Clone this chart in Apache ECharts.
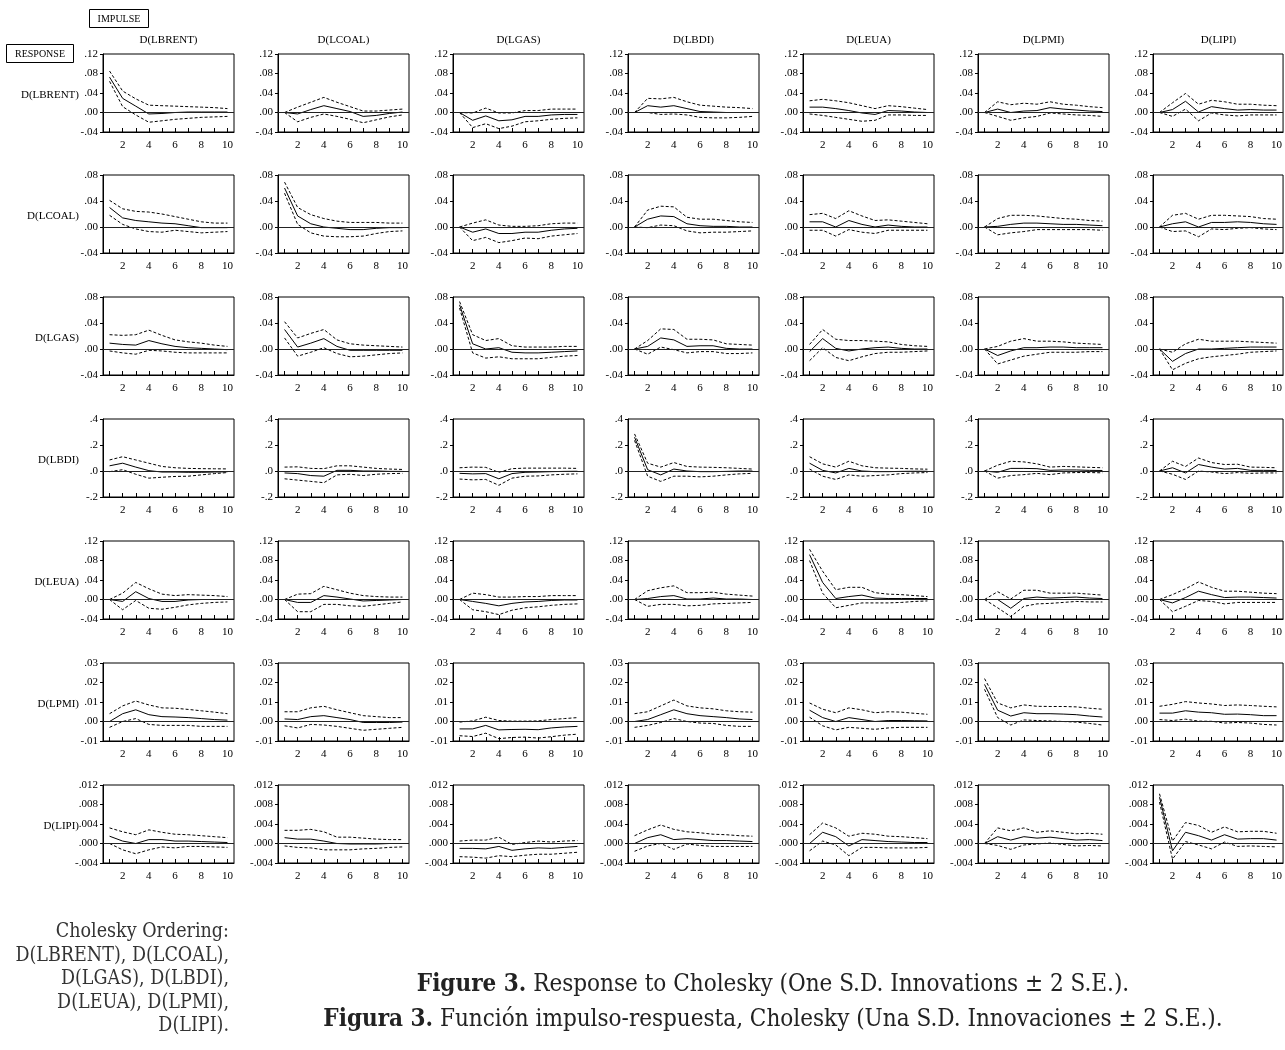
<!DOCTYPE html>
<html>
<head>
<meta charset="utf-8">
<title>Response to Cholesky One S.D. Innovations</title>
<script src="https://cdn.jsdelivr.net/npm/echarts@6/dist/echarts.min.js"></script>
<style>
  html, body { margin: 0; padding: 0; background: #fff; }
  #irf-chart { width: 1285px; height: 1050px; }
</style>
</head>
<body>
<div id="irf-chart"></div>
<script>
// periods on the x axis
var periods = ['1', '2', '3', '4', '5', '6', '7', '8', '9', '10'];
// impulses (columns) and responses (rows)
var varNames = ['D(LBRENT)', 'D(LCOAL)', 'D(LGAS)', 'D(LBDI)', 'D(LEUA)', 'D(LPMI)', 'D(LIPI)'];

// y axis per response row
var yMin = [-0.04, -0.04, -0.04, -0.2, -0.04, -0.01, -0.004];
var yMax = [0.12, 0.08, 0.08, 0.4, 0.12, 0.03, 0.012];
var yStep = [0.04, 0.04, 0.04, 0.2, 0.04, 0.01, 0.004];
var yDecimals = [2, 2, 2, 1, 2, 2, 3];

// response of D(LBRENT), one list per impulse
var respLBRENT = [
  [0.0725, 0.029, 0.013, -0.003, -0.002, 0.000, 0.001, 0.001, 0.001, 0.001],
  [0, -0.003, 0.006, 0.014, 0.008, 0.002, -0.008, -0.006, -0.002, 0.001],
  [0, -0.016, -0.007, -0.017, -0.015, -0.008, -0.008, -0.005, -0.004, -0.004],
  [0, 0.014, 0.011, 0.014, 0.008, 0.002, 0.001, 0.000, 0.000, 0.000],
  [0.011, 0.011, 0.008, 0.004, -0.001, -0.004, 0.004, 0.003, 0.001, 0.000],
  [0, 0.007, 0.000, 0.003, 0.004, 0.010, 0.007, 0.005, 0.003, 0.002],
  [0, 0.006, 0.023, 0.001, 0.012, 0.008, 0.005, 0.006, 0.005, 0.005]
];
var upperLBRENT = [
  [0.085, 0.044, 0.028, 0.015, 0.014, 0.013, 0.012, 0.011, 0.010, 0.008],
  [0, 0.011, 0.021, 0.031, 0.021, 0.012, 0.003, 0.003, 0.005, 0.007],
  [0, -0.001, 0.009, -0.001, -0.001, 0.004, 0.004, 0.007, 0.007, 0.007],
  [0, 0.029, 0.028, 0.031, 0.022, 0.015, 0.013, 0.011, 0.010, 0.008],
  [0.024, 0.027, 0.024, 0.020, 0.014, 0.008, 0.014, 0.012, 0.009, 0.006],
  [0, 0.022, 0.016, 0.019, 0.017, 0.022, 0.017, 0.015, 0.012, 0.010],
  [0, 0.020, 0.039, 0.017, 0.025, 0.022, 0.017, 0.017, 0.015, 0.014]
];
var lowerLBRENT = [
  [0.064, 0.012, -0.005, -0.020, -0.017, -0.014, -0.012, -0.010, -0.009, -0.008],
  [0, -0.019, -0.010, -0.003, -0.008, -0.014, -0.021, -0.015, -0.009, -0.005],
  [0, -0.031, -0.023, -0.033, -0.028, -0.019, -0.017, -0.014, -0.012, -0.011],
  [0, 0.000, -0.004, -0.003, -0.005, -0.010, -0.011, -0.011, -0.010, -0.008],
  [-0.003, -0.006, -0.010, -0.014, -0.018, -0.016, -0.005, -0.005, -0.006, -0.006],
  [0, -0.008, -0.016, -0.011, -0.008, -0.001, -0.003, -0.005, -0.006, -0.008],
  [0, -0.008, 0.007, -0.017, -0.001, -0.005, -0.007, -0.005, -0.005, -0.005]
];

// response of D(LCOAL)
var respLCOAL = [
  [0.030, 0.014, 0.010, 0.008, 0.006, 0.005, 0.002, -0.001, -0.001, -0.001],
  [0.060, 0.017, 0.005, 0.000, -0.002, -0.004, -0.004, -0.002, -0.001, -0.001],
  [0, -0.008, -0.003, -0.010, -0.010, -0.008, -0.008, -0.005, -0.003, -0.002],
  [0, 0.012, 0.017, 0.016, 0.005, 0.002, 0.001, 0.001, 0.000, 0.000],
  [0.008, 0.008, 0.000, 0.010, 0.004, 0.000, 0.003, 0.001, 0.000, 0.000],
  [0, 0.001, 0.004, 0.006, 0.006, 0.005, 0.004, 0.004, 0.003, 0.002],
  [0, 0.005, 0.008, 0.000, 0.007, 0.007, 0.008, 0.007, 0.005, 0.004]
];
var upperLCOAL = [
  [0.041, 0.028, 0.024, 0.023, 0.020, 0.016, 0.012, 0.008, 0.006, 0.006],
  [0.069, 0.030, 0.019, 0.013, 0.009, 0.007, 0.007, 0.007, 0.006, 0.006],
  [0, 0.006, 0.011, 0.003, 0.001, 0.001, 0.002, 0.005, 0.006, 0.006],
  [0, 0.026, 0.032, 0.031, 0.015, 0.012, 0.012, 0.010, 0.008, 0.007],
  [0.019, 0.021, 0.013, 0.025, 0.017, 0.010, 0.011, 0.009, 0.007, 0.005],
  [0, 0.013, 0.018, 0.018, 0.017, 0.015, 0.013, 0.012, 0.010, 0.009],
  [0, 0.018, 0.021, 0.012, 0.018, 0.018, 0.017, 0.016, 0.013, 0.012]
];
var lowerLCOAL = [
  [0.018, 0.004, -0.003, -0.007, -0.008, -0.005, -0.007, -0.009, -0.008, -0.007],
  [0.052, 0.004, -0.009, -0.014, -0.015, -0.015, -0.014, -0.010, -0.007, -0.006],
  [0, -0.021, -0.016, -0.024, -0.021, -0.017, -0.018, -0.014, -0.012, -0.010],
  [0, -0.001, 0.003, 0.002, -0.006, -0.009, -0.008, -0.008, -0.007, -0.006],
  [-0.005, -0.005, -0.014, -0.004, -0.008, -0.010, -0.005, -0.005, -0.005, -0.005],
  [0, -0.012, -0.009, -0.007, -0.004, -0.004, -0.004, -0.004, -0.004, -0.005],
  [0, -0.007, -0.006, -0.015, -0.003, -0.004, -0.002, -0.001, -0.003, -0.004]
];

// response of D(LGAS)
var respLGAS = [
  [0.009, 0.007, 0.006, 0.013, 0.008, 0.004, 0.002, 0.001, 0.000, -0.001],
  [0.030, 0.003, 0.009, 0.016, 0.004, -0.002, -0.002, -0.002, -0.002, -0.002],
  [0.068, 0.008, 0.000, 0.002, -0.005, -0.006, -0.006, -0.005, -0.004, -0.003],
  [0, 0.004, 0.017, 0.014, 0.004, 0.005, 0.005, 0.001, 0.000, 0.000],
  [-0.004, 0.016, 0.001, -0.003, 0.000, 0.002, 0.003, 0.001, 0.000, 0.000],
  [0, -0.010, -0.003, 0.002, 0.002, 0.003, 0.003, 0.002, 0.002, 0.002],
  [0, -0.019, -0.007, 0.000, 0.000, 0.001, 0.002, 0.003, 0.003, 0.003]
];
var upperLGAS = [
  [0.022, 0.021, 0.022, 0.029, 0.021, 0.014, 0.011, 0.009, 0.006, 0.004],
  [0.042, 0.017, 0.024, 0.030, 0.014, 0.008, 0.006, 0.005, 0.004, 0.003],
  [0.073, 0.022, 0.013, 0.016, 0.005, 0.003, 0.003, 0.003, 0.004, 0.004],
  [0, 0.013, 0.031, 0.030, 0.015, 0.015, 0.014, 0.008, 0.007, 0.006],
  [0.007, 0.030, 0.015, 0.013, 0.013, 0.012, 0.011, 0.007, 0.005, 0.004],
  [0, 0.004, 0.012, 0.016, 0.012, 0.012, 0.011, 0.009, 0.008, 0.007],
  [0, -0.005, 0.008, 0.015, 0.012, 0.012, 0.012, 0.011, 0.010, 0.009]
];
var lowerLGAS = [
  [-0.003, -0.006, -0.008, -0.002, -0.003, -0.005, -0.006, -0.006, -0.006, -0.006],
  [0.017, -0.011, -0.005, 0.002, -0.007, -0.012, -0.011, -0.009, -0.007, -0.006],
  [0.063, -0.006, -0.014, -0.012, -0.015, -0.015, -0.015, -0.013, -0.011, -0.010],
  [0, -0.008, 0.003, -0.001, -0.006, -0.004, -0.004, -0.007, -0.007, -0.006],
  [-0.018, 0.002, -0.013, -0.018, -0.012, -0.007, -0.005, -0.005, -0.004, -0.003],
  [0, -0.023, -0.017, -0.011, -0.008, -0.005, -0.005, -0.005, -0.004, -0.004],
  [0, -0.032, -0.022, -0.015, -0.012, -0.010, -0.008, -0.005, -0.004, -0.003]
];

// response of D(LBDI)
var respLBDI = [
  [0.040, 0.060, 0.030, 0.003, -0.008, -0.008, -0.010, -0.010, -0.008, -0.006],
  [-0.015, -0.020, -0.035, -0.040, 0.005, 0.005, 0.000, 0.000, -0.003, -0.003],
  [-0.018, -0.022, -0.020, -0.060, -0.020, -0.010, -0.008, -0.005, -0.003, -0.002],
  [0.260, 0.010, -0.030, 0.015, 0.000, -0.005, -0.005, -0.003, 0.000, 0.000],
  [0.060, 0.005, -0.015, 0.020, 0.000, -0.005, -0.005, -0.003, -0.002, -0.002],
  [0, -0.010, 0.020, 0.020, 0.018, 0.005, 0.008, 0.008, 0.005, 0.004],
  [0, 0.025, -0.015, 0.050, 0.030, 0.015, 0.020, 0.005, 0.005, 0.004]
];
var upperLBDI = [
  [0.085, 0.110, 0.085, 0.060, 0.035, 0.025, 0.020, 0.018, 0.017, 0.016],
  [0.030, 0.032, 0.020, 0.018, 0.040, 0.040, 0.030, 0.020, 0.015, 0.012],
  [0.025, 0.030, 0.028, -0.010, 0.018, 0.022, 0.022, 0.022, 0.022, 0.020],
  [0.285, 0.060, 0.030, 0.065, 0.035, 0.030, 0.028, 0.025, 0.020, 0.015],
  [0.110, 0.055, 0.030, 0.075, 0.040, 0.025, 0.022, 0.020, 0.016, 0.014],
  [0, 0.045, 0.075, 0.070, 0.055, 0.030, 0.035, 0.032, 0.028, 0.025],
  [0, 0.075, 0.035, 0.100, 0.065, 0.050, 0.052, 0.030, 0.028, 0.025]
];
var lowerLBDI = [
  [-0.005, 0.010, -0.025, -0.055, -0.048, -0.042, -0.040, -0.030, -0.020, -0.012],
  [-0.060, -0.070, -0.080, -0.090, -0.030, -0.025, -0.035, -0.025, -0.020, -0.018],
  [-0.062, -0.068, -0.065, -0.110, -0.055, -0.040, -0.038, -0.030, -0.025, -0.022],
  [0.235, -0.040, -0.080, -0.040, -0.040, -0.045, -0.040, -0.030, -0.022, -0.018],
  [0.015, -0.040, -0.065, -0.030, -0.040, -0.035, -0.030, -0.020, -0.015, -0.012],
  [0, -0.055, -0.035, -0.028, -0.018, -0.028, -0.015, -0.012, -0.012, -0.014],
  [0, -0.025, -0.065, 0.000, -0.008, -0.020, -0.012, -0.018, -0.015, -0.015]
];

// response of D(LEUA)
var respLEUA = [
  [0, -0.004, 0.016, 0.002, -0.004, -0.004, -0.001, 0.000, 0.000, 0.000],
  [0, -0.006, -0.006, 0.008, 0.005, 0.001, -0.003, -0.002, -0.001, 0.000],
  [0, -0.004, -0.008, -0.013, -0.008, -0.005, -0.004, -0.002, -0.001, -0.001],
  [0, 0.002, 0.006, 0.008, 0.001, 0.001, 0.003, 0.001, 0.001, 0.000],
  [0.092, 0.035, 0.002, 0.006, 0.009, 0.003, 0.002, 0.002, 0.002, 0.002],
  [0, 0.000, -0.018, 0.002, 0.005, 0.003, 0.004, 0.005, 0.003, 0.002],
  [0, -0.007, 0.004, 0.017, 0.010, 0.004, 0.005, 0.005, 0.004, 0.003]
];
var upperLEUA = [
  [0, 0.013, 0.035, 0.022, 0.011, 0.008, 0.010, 0.009, 0.008, 0.006],
  [0, 0.011, 0.012, 0.027, 0.020, 0.013, 0.008, 0.006, 0.005, 0.005],
  [0, 0.013, 0.010, 0.005, 0.005, 0.006, 0.006, 0.008, 0.008, 0.008],
  [0, 0.018, 0.024, 0.028, 0.014, 0.014, 0.015, 0.011, 0.009, 0.007],
  [0.103, 0.058, 0.020, 0.025, 0.025, 0.014, 0.011, 0.010, 0.008, 0.006],
  [0, 0.016, 0.001, 0.019, 0.019, 0.013, 0.013, 0.013, 0.011, 0.009],
  [0, 0.010, 0.022, 0.036, 0.025, 0.017, 0.017, 0.015, 0.013, 0.012]
];
var lowerLEUA = [
  [0, -0.021, -0.002, -0.018, -0.020, -0.016, -0.011, -0.008, -0.006, -0.005],
  [0, -0.025, -0.025, -0.010, -0.010, -0.013, -0.014, -0.011, -0.008, -0.005],
  [0, -0.021, -0.025, -0.031, -0.022, -0.017, -0.015, -0.012, -0.010, -0.009],
  [0, -0.014, -0.010, -0.010, -0.013, -0.012, -0.009, -0.008, -0.007, -0.006],
  [0.080, 0.013, -0.017, -0.012, -0.007, -0.007, -0.007, -0.006, -0.004, -0.003],
  [0, -0.017, -0.035, -0.014, -0.009, -0.008, -0.006, -0.004, -0.005, -0.005],
  [0, -0.025, -0.014, -0.002, -0.004, -0.009, -0.006, -0.006, -0.006, -0.006]
];

// response of D(LPMI)
var respLPMI = [
  [0.0000, 0.0040, 0.0060, 0.0035, 0.0025, 0.0023, 0.0020, 0.0015, 0.0010, 0.0007],
  [0.0013, 0.0010, 0.0025, 0.0030, 0.0020, 0.0010, -0.0005, -0.0005, -0.0005, -0.0003],
  [-0.0038, -0.0038, -0.0020, -0.0043, -0.0041, -0.0040, -0.0042, -0.0033, -0.0028, -0.0025],
  [0.0000, 0.0010, 0.0035, 0.0060, 0.0040, 0.0030, 0.0025, 0.0020, 0.0013, 0.0010],
  [0.0058, 0.0020, 0.0000, 0.0020, 0.0010, 0.0000, 0.0005, 0.0005, 0.0004, 0.0003],
  [0.0190, 0.0058, 0.0028, 0.0045, 0.0040, 0.0040, 0.0038, 0.0035, 0.0028, 0.0023],
  [0.0043, 0.0043, 0.0055, 0.0048, 0.0045, 0.0037, 0.0038, 0.0035, 0.0030, 0.0030]
];
var upperLPMI = [
  [0.0040, 0.0080, 0.0105, 0.0085, 0.0070, 0.0068, 0.0062, 0.0055, 0.0048, 0.0040],
  [0.0050, 0.0050, 0.0070, 0.0078, 0.0060, 0.0045, 0.0030, 0.0025, 0.0020, 0.0020],
  [-0.0003, 0.0003, 0.0022, 0.0005, 0.0002, 0.0002, 0.0003, 0.0010, 0.0015, 0.0020],
  [0.0040, 0.0050, 0.0080, 0.0110, 0.0080, 0.0070, 0.0065, 0.0055, 0.0050, 0.0048],
  [0.0095, 0.0063, 0.0045, 0.0070, 0.0060, 0.0045, 0.0050, 0.0048, 0.0042, 0.0037],
  [0.0220, 0.0095, 0.0070, 0.0085, 0.0078, 0.0077, 0.0077, 0.0075, 0.0068, 0.0063],
  [0.0078, 0.0088, 0.0102, 0.0095, 0.0090, 0.0082, 0.0085, 0.0082, 0.0078, 0.0075]
];
var lowerLPMI = [
  [-0.0030, 0.0000, 0.0015, -0.0015, -0.0020, -0.0020, -0.0020, -0.0025, -0.0025, -0.0025],
  [-0.0022, -0.0033, -0.0015, -0.0018, -0.0025, -0.0035, -0.0045, -0.0040, -0.0035, -0.0030],
  [-0.0073, -0.0077, -0.0060, -0.0088, -0.0082, -0.0080, -0.0085, -0.0078, -0.0070, -0.0065],
  [-0.0030, -0.0020, -0.0005, 0.0015, 0.0000, -0.0008, -0.0010, -0.0020, -0.0025, -0.0025],
  [0.0022, -0.0022, -0.0043, -0.0030, -0.0035, -0.0040, -0.0033, -0.0030, -0.0030, -0.0030],
  [0.0165, 0.0020, -0.0018, 0.0008, 0.0005, 0.0003, 0.0000, -0.0003, -0.0010, -0.0018],
  [0.0010, 0.0005, 0.0012, 0.0002, 0.0001, -0.0008, -0.0005, -0.0008, -0.0015, -0.0018]
];

// response of D(LIPI)
var respLIPI = [
  [0.0015, 0.0005, 0.0000, 0.0008, 0.0008, 0.0005, 0.0005, 0.0004, 0.0003, 0.0002],
  [0.0012, 0.0009, 0.0009, 0.0005, 0.0000, -0.0001, -0.0001, -0.0001, 0.0000, 0.0000],
  [-0.0010, -0.0010, -0.0011, -0.0006, -0.0014, -0.0011, -0.0009, -0.0010, -0.0008, -0.0006],
  [0.0000, 0.0012, 0.0018, 0.0008, 0.0010, 0.0008, 0.0006, 0.0006, 0.0005, 0.0004],
  [0.0000, 0.0023, 0.0014, -0.0005, 0.0008, 0.0006, 0.0004, 0.0003, 0.0002, 0.0002],
  [0.0000, 0.0014, 0.0007, 0.0014, 0.0011, 0.0013, 0.0010, 0.0007, 0.0008, 0.0006],
  [0.0095, -0.0015, 0.0023, 0.0016, 0.0007, 0.0018, 0.0009, 0.0010, 0.0010, 0.0007]
];
var upperLIPI = [
  [0.0032, 0.0024, 0.0018, 0.0028, 0.0023, 0.0019, 0.0018, 0.0016, 0.0014, 0.0012],
  [0.0027, 0.0027, 0.0029, 0.0024, 0.0013, 0.0013, 0.0011, 0.0009, 0.0008, 0.0008],
  [0.0005, 0.0007, 0.0007, 0.0013, -0.0002, 0.0002, 0.0005, 0.0003, 0.0005, 0.0006],
  [0.0016, 0.0028, 0.0038, 0.0029, 0.0024, 0.0022, 0.0019, 0.0018, 0.0016, 0.0015],
  [0.0018, 0.0042, 0.0032, 0.0015, 0.0021, 0.0019, 0.0015, 0.0014, 0.0012, 0.0010],
  [0.0000, 0.0032, 0.0026, 0.0032, 0.0023, 0.0026, 0.0023, 0.0020, 0.0021, 0.0019],
  [0.0102, 0.0005, 0.0043, 0.0037, 0.0023, 0.0034, 0.0024, 0.0025, 0.0025, 0.0021]
];
var lowerLIPI = [
  [0.0000, -0.0013, -0.0021, -0.0013, -0.0007, -0.0009, -0.0006, -0.0006, -0.0007, -0.0008],
  [-0.0005, -0.0008, -0.0009, -0.0013, -0.0013, -0.0013, -0.0011, -0.0010, -0.0008, -0.0007],
  [-0.0027, -0.0028, -0.0030, -0.0025, -0.0027, -0.0024, -0.0022, -0.0022, -0.0020, -0.0018],
  [-0.0016, -0.0005, 0.0000, -0.0012, -0.0001, -0.0004, -0.0006, -0.0006, -0.0006, -0.0006],
  [-0.0015, 0.0005, -0.0003, -0.0025, -0.0008, -0.0008, -0.0009, -0.0009, -0.0009, -0.0008],
  [0.0000, -0.0004, -0.0012, -0.0003, -0.0001, 0.0001, -0.0002, -0.0005, -0.0004, -0.0005],
  [0.0085, -0.0032, 0.0004, -0.0003, -0.0011, 0.0003, -0.0006, -0.0005, -0.0006, -0.0007]
];

var responses = [respLBRENT, respLCOAL, respLGAS, respLBDI, respLEUA, respLPMI, respLIPI];
var uppers = [upperLBRENT, upperLCOAL, upperLGAS, upperLBDI, upperLEUA, upperLPMI, upperLIPI];
var lowers = [lowerLBRENT, lowerLCOAL, lowerLGAS, lowerLBDI, lowerLEUA, lowerLPMI, lowerLIPI];

// layout of the 7x7 panel grid
var boxLeft = 103, colStep = 175, boxW = 131, boxH = 78;
var rowTop = [54, 175, 297, 419, 541, 663, 785];
var axisFont = 'Liberation Serif, Times New Roman, serif';
var captionFont = 'DejaVu Serif Condensed, Liberation Serif, serif';

// eviews style tick labels: .04, -.04, .00
function tickText(v, d) {
    if (Math.abs(v) < 1e-12) v = 0;
    var s = Math.abs(v).toFixed(d).replace(/^0/, '');
    return (v < 0 ? '-' : '') + s;
}

var grids = [], xAxes = [], yAxes = [], series = [];
for (var r = 0; r < 7; r++) {
    for (var c = 0; c < 7; c++) {
        var idx = r * 7 + c;
        grids.push({
            left: boxLeft + colStep * c,
            top: rowTop[r],
            width: boxW,
            height: boxH,
            show: true,
            borderColor: '#000',
            borderWidth: 1,
            backgroundColor: 'transparent'
        });
        xAxes.push({
            type: 'category',
            gridIndex: idx,
            data: periods,
            boundaryGap: true,
            axisLine: {show: true, onZero: false, lineStyle: {color: '#000', width: 1}},
            axisTick: {show: true, inside: true, length: 4, alignWithLabel: true, interval: 0, lineStyle: {color: '#000'}},
            axisLabel: {
                interval: function (i) { return i % 2 === 1; },
                margin: 8, fontSize: 11, fontFamily: axisFont, color: '#000'
            },
            splitLine: {show: false}
        });
        (function (d) {
            yAxes.push({
                type: 'value',
                gridIndex: idx,
                min: yMin[r], max: yMax[r], interval: yStep[r],
                axisLine: {show: true, lineStyle: {color: '#000', width: 1}},
                axisTick: {show: true, length: 3, lineStyle: {color: '#000'}},
                axisLabel: {
                    formatter: function (v) { return tickText(v, d); },
                    margin: 5, fontSize: 11, fontFamily: axisFont, color: '#000'
                },
                splitLine: {show: false}
            });
        })(yDecimals[r]);
        series.push({
            type: 'line', xAxisIndex: idx, yAxisIndex: idx,
            data: responses[r][c], showSymbol: false, silent: true,
            lineStyle: {color: '#000', width: 1},
            markLine: {
                silent: true, symbol: 'none', label: {show: false},
                lineStyle: {color: '#222', width: 1, type: 'solid'},
                data: [{yAxis: 0}]
            }
        });
        series.push({
            type: 'line', xAxisIndex: idx, yAxisIndex: idx,
            data: uppers[r][c], showSymbol: false, silent: true,
            lineStyle: {color: '#000', width: 1, type: [3, 2]}
        });
        series.push({
            type: 'line', xAxisIndex: idx, yAxisIndex: idx,
            data: lowers[r][c], showSymbol: false, silent: true,
            lineStyle: {color: '#000', width: 1, type: [3, 2]}
        });
    }
}

// headers, row names, boxes and caption
var graphics = [];
varNames.forEach(function (name, i) {
    graphics.push({
        type: 'text', x: boxLeft + colStep * i + boxW / 2, y: 40,
        style: {text: name, font: '11px ' + axisFont, fill: '#000', textAlign: 'center', textVerticalAlign: 'middle'}
    });
    graphics.push({
        type: 'text', x: 79, y: rowTop[i] + 41,
        style: {text: name, font: '11px ' + axisFont, fill: '#000', textAlign: 'right', textVerticalAlign: 'middle'}
    });
});
graphics.push({type: 'rect', shape: {x: 89.5, y: 9.5, width: 59, height: 18}, style: {fill: '#fff', stroke: '#000', lineWidth: 1}});
graphics.push({type: 'text', x: 119, y: 19, style: {text: 'IMPULSE', font: '10px ' + axisFont, fill: '#000', textAlign: 'center', textVerticalAlign: 'middle'}});
graphics.push({type: 'rect', shape: {x: 6.5, y: 44.5, width: 67, height: 18}, style: {fill: '#fff', stroke: '#000', lineWidth: 1}});
graphics.push({type: 'text', x: 40, y: 54, style: {text: 'RESPONSE', font: '10px ' + axisFont, fill: '#000', textAlign: 'center', textVerticalAlign: 'middle'}});

var orderingLines = ['Cholesky Ordering:', 'D(LBRENT), D(LCOAL),', 'D(LGAS), D(LBDI),', 'D(LEUA), D(LPMI),', 'D(LIPI).'];
orderingLines.forEach(function (t, i) {
    graphics.push({
        type: 'text', x: 229, y: 932 + i * 23.5,
        style: {text: t, font: '19.5px ' + captionFont, fill: '#333', textAlign: 'right', textVerticalAlign: 'middle'}
    });
});
var captionRich = {b: {fontWeight: 'bold', fontSize: 24, fontFamily: captionFont, fill: '#222'}};
graphics.push({
    type: 'text', x: 773, y: 985,
    style: {
        text: '{b|Figure 3.} Response to Cholesky (One S.D. Innovations ± 2 S.E.).',
        font: '24px ' + captionFont, fill: '#222', textAlign: 'center', textVerticalAlign: 'middle',
        rich: captionRich
    }
});
graphics.push({
    type: 'text', x: 773, y: 1020,
    style: {
        text: '{b|Figura 3.} Función impulso-respuesta, Cholesky (Una S.D. Innovaciones ± 2 S.E.).',
        font: '24px ' + captionFont, fill: '#222', textAlign: 'center', textVerticalAlign: 'middle',
        rich: captionRich
    }
});

var myEcharts = echarts.init(document.getElementById('irf-chart'));
myEcharts.setOption({
    animation: false,
    backgroundColor: '#fff',
    grid: grids,
    xAxis: xAxes,
    yAxis: yAxes,
    series: series,
    graphic: graphics
});
</script>
</body>
</html>
